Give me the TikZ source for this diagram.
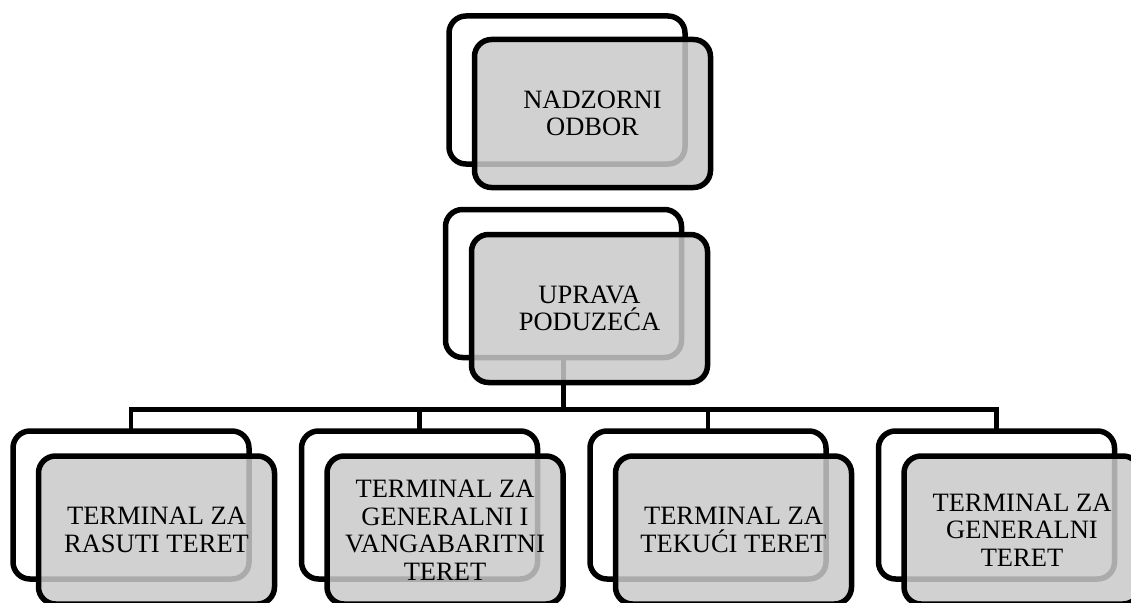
\documentclass[tikz,border=0pt]{standalone}
\usepackage{fontspec}
\setmainfont{Liberation Serif}
\definecolor{boxgray}{RGB}{201,201,201}
\begin{document}
\begin{tikzpicture}[x=1pt,y=-1pt,
  backbox/.style={draw=black, line width=5.5pt, rounded corners=17pt, fill=white,
    minimum width=236pt, minimum height=148pt, inner sep=0pt, outer sep=0pt},
  frontbox/.style={draw=black, line width=5.5pt, rounded corners=17pt, fill=boxgray,
    fill opacity=0.85, text opacity=1, draw opacity=1,
    minimum width=236pt, minimum height=148pt, inner sep=0pt, outer sep=0pt,
    align=center, font=\fontsize{26.5}{27.5}\selectfont},
  conn/.style={draw=black, line width=4.5pt}]
\useasboundingbox (0,0) rectangle (1131,602);
\clip (0,0) rectangle (1131,602);
% back boxes
\node[backbox] (tback) at (567,90) {};
\node[backbox] (mback) at (563.5,283.5) {};
\node[backbox] (aback) at (131,505) {};
\node[backbox] (bback) at (419.5,505) {};
\node[backbox] (cback) at (708,505) {};
\node[backbox] (dback) at (996.5,505) {};
% connectors
\coordinate (bus) at (563.5,409.5);
\draw[conn] (mback.south) -- (bus) -| (aback.north);
\draw[conn] (bus) -| (bback.north);
\draw[conn] (bus) -| (cback.north);
\draw[conn] (bus) -| (dback.north);
% front boxes
\node[frontbox] (t) at (592.5,113.5) {NADZORNI\\ODBOR};
\node[frontbox] (m) at (589.5,308.5) {UPRAVA\\PODUZEĆA};
\node[frontbox] (a) at (156.5,530) {TERMINAL ZA\\RASUTI TERET};
\node[frontbox] (b) at (445,530) {TERMINAL ZA\\GENERALNI I\\VANGABARITNI\\TERET};
\node[frontbox] (c) at (733.5,530) {TERMINAL ZA\\TEKUĆI TERET};
\node[frontbox] (d) at (1022,530) {TERMINAL ZA\\GENERALNI\\TERET};
\end{tikzpicture}
\end{document}
